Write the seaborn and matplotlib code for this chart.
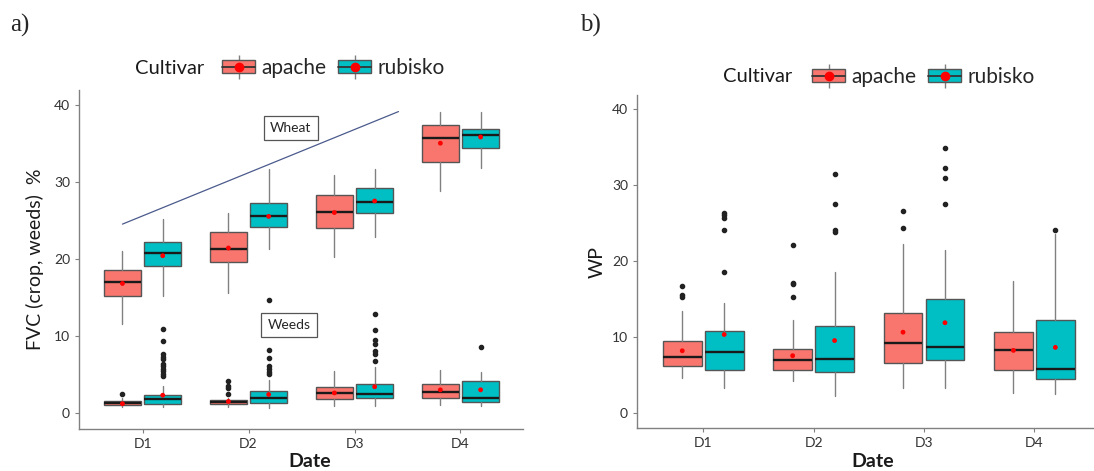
import matplotlib
matplotlib.use("Agg")
import matplotlib.pyplot as plt
import seaborn as sns
from matplotlib.patches import Patch
from matplotlib.lines import Line2D
from matplotlib.legend_handler import HandlerTuple

dates = ["D1", "D2", "D3", "D4"]
cultivars = ["apache", "rubisko"]
colors = {"apache": "#F8766D", "rubisko": "#00BFC4"}

# ---- panel a : FVC, wheat boxes ----
wheat_apache_lo = [11.5, 15.5, 20.2, 28.8]
wheat_apache_q1 = [15.2, 19.6, 24.0, 32.6]
wheat_apache_med = [17.05, 21.3, 26.1, 35.7]
wheat_apache_q3 = [18.6, 23.5, 28.3, 37.3]
wheat_apache_hi = [21.0, 26.0, 30.9, 39.1]
wheat_apache_mean = [16.8, 21.4, 26.0, 35.0]
wheat_apache_out = [[], [], [], []]

wheat_rubisko_lo = [15.2, 21.3, 22.8, 31.8]
wheat_rubisko_q1 = [19.1, 24.1, 25.9, 34.4]
wheat_rubisko_med = [20.8, 25.6, 27.4, 36.0]
wheat_rubisko_q3 = [22.2, 27.2, 29.2, 36.8]
wheat_rubisko_hi = [25.2, 31.6, 31.6, 39.1]
wheat_rubisko_mean = [20.4, 25.5, 27.5, 35.8]
wheat_rubisko_out = [[], [14.7], [], []]

# ---- panel a : FVC, weed boxes ----
weed_apache_lo = [0.8, 0.8, 0.9, 1.04]
weed_apache_q1 = [1.04, 1.13, 1.8, 2.0]
weed_apache_med = [1.3, 1.47, 2.6, 2.77]
weed_apache_q3 = [1.56, 1.65, 3.4, 3.7]
weed_apache_hi = [1.9, 1.9, 5.5, 5.6]
weed_apache_mean = [1.2, 1.5, 2.6, 3.0]
weed_apache_out = [[2.4], [4.15, 3.45, 3.2, 2.4], [], []]

weed_rubisko_lo = [0.74, 0.6, 0.9, 0.9]
weed_rubisko_q1 = [1.1, 1.26, 1.9, 1.47]
weed_rubisko_med = [1.8, 1.9, 2.4, 2.0]
weed_rubisko_q3 = [2.3, 2.86, 3.77, 4.2]
weed_rubisko_hi = [3.5, 4.3, 6.0, 5.3]
weed_rubisko_mean = [2.3, 2.4, 3.4, 3.0]
weed_rubisko_out = [[10.9, 9.35, 7.66, 7.3, 7.0, 6.36, 6.1, 5.75, 5.4, 5.06, 4.8],
                    [8.2, 7.1, 6.1, 5.75, 5.36, 5.0],
                    [12.86, 10.7, 9.5, 8.96, 8.05, 7.66, 6.7],
                    [8.5]]

wheat_line_x = [-0.19, 2.415]
wheat_line_y = [24.5, 39.1]

# ---- panel b : WP ----
wp_apache_lo = [4.6, 4.2, 3.3, 2.55]
wp_apache_q1 = [6.1, 5.6, 6.6, 5.6]
wp_apache_med = [7.3, 6.9, 9.2, 8.2]
wp_apache_q3 = [9.4, 8.4, 13.1, 10.6]
wp_apache_hi = [13.4, 12.2, 22.3, 17.4]
wp_apache_mean = [8.15, 7.5, 10.6, 8.2]
wp_apache_out = [[16.7, 15.5, 15.2], [22.15, 17.1, 16.9, 15.3], [26.55, 24.4], []]

wp_rubisko_lo = [3.3, 2.2, 3.2, 2.4]
wp_rubisko_q1 = [5.6, 5.4, 6.9, 4.45]
wp_rubisko_med = [8.0, 7.1, 8.6, 5.7]
wp_rubisko_q3 = [10.8, 11.45, 15.0, 12.2]
wp_rubisko_hi = [14.4, 18.5, 21.4, 23.5]
wp_rubisko_mean = [10.3, 9.5, 11.85, 8.6]
wp_rubisko_out = [[26.3, 26.0, 25.7, 24.1, 18.5], [31.5, 27.5, 24.1, 23.8],
                  [34.9, 32.3, 31.0, 27.5], [24.1]]

yticks = [0, 10, 20, 30, 40]

sns.set_theme(style="white")
plt.rcParams['font.family'] = ['Lato', 'DejaVu Sans']


def make_stats(lo, q1, med, q3, hi, mean, out):
    stats = []
    for i in range(len(dates)):
        stats.append({"whislo": lo[i], "q1": q1[i], "med": med[i], "q3": q3[i],
                      "whishi": hi[i], "mean": mean[i], "fliers": out[i], "label": dates[i]})
    return stats


def draw_boxes(ax, stats, cultivar):
    offset = -0.19 if cultivar == "apache" else 0.19
    pos = [i + offset for i in range(len(dates))]
    ax.bxp(stats, positions=pos, widths=0.35, patch_artist=True, showcaps=False,
           showmeans=False, manage_ticks=False,
           boxprops=dict(facecolor=colors[cultivar], edgecolor="#555555", linewidth=1.0),
           medianprops=dict(color="#1a1a1a", linewidth=1.7),
           whiskerprops=dict(color="#808080", linewidth=1.0),
           flierprops=dict(marker="o", markersize=3, markerfacecolor="#222222",
                           markeredgecolor="#222222"))
    sns.scatterplot(x=pos, y=[s["mean"] for s in stats], color="red", s=12,
                    edgecolor="none", ax=ax, legend=False, zorder=5)


def style_axis(ax, xmax, ylab):
    ax.set_xlim(-0.6, xmax)
    ax.set_ylim(-2.08, 41.9)
    ax.set_xticks(range(len(dates)))
    ax.set_xticklabels(dates)
    ax.set_yticks(yticks)
    for s in ["top", "right"]:
        ax.spines[s].set_visible(False)
    for s in ["left", "bottom"]:
        ax.spines[s].set_color("#808080")
        ax.spines[s].set_linewidth(1.0)
    ax.tick_params(axis="both", length=3, width=0.8, color="#808080",
                   labelsize=10, labelcolor="#333333", left=True, bottom=True)
    ax.set_ylabel(ylab, fontsize=14, color="#1a1a1a")
    ax.set_xlabel("Date", fontsize=14, fontweight="bold", color="#1a1a1a")
    ax.grid(False)


def add_legend(ax_fig, x_title, x_leg, y):
    fig.text(x_title / 1094, 1 - y / 471, "Cultivar", fontsize=14.5, va="center",
             ha="left", color="#1a1a1a")
    handles = []
    for c in cultivars:
        handles.append((Line2D([], [], color="#808080", marker="|", markersize=17,
                               linestyle="none"),
                        Patch(facecolor=colors[c], edgecolor="#555555"),
                        Line2D([], [], color="#333333", lw=1.3, marker="o",
                               markerfacecolor="red", markeredgecolor="red", markersize=6)))
    fig.legend(handles, cultivars, handler_map={tuple: HandlerTuple(ndivide=1, pad=0)},
               loc="center left", bbox_to_anchor=(x_leg / 1094, 1 - y / 471),
               ncol=2, frameon=False, fontsize=15, borderpad=0, borderaxespad=0,
               handlelength=1.6, handleheight=0.6, handletextpad=0.3, columnspacing=0.55)


fig = plt.figure(figsize=(10.94, 4.71), dpi=100)

ax_a = fig.add_axes([79 / 1094, (471 - 429) / 471, 444 / 1094, 339 / 471])
for c in cultivars:
    if c == "apache":
        draw_boxes(ax_a, make_stats(wheat_apache_lo, wheat_apache_q1, wheat_apache_med,
                                    wheat_apache_q3, wheat_apache_hi, wheat_apache_mean,
                                    wheat_apache_out), c)
        draw_boxes(ax_a, make_stats(weed_apache_lo, weed_apache_q1, weed_apache_med,
                                    weed_apache_q3, weed_apache_hi, weed_apache_mean,
                                    weed_apache_out), c)
    else:
        draw_boxes(ax_a, make_stats(wheat_rubisko_lo, wheat_rubisko_q1, wheat_rubisko_med,
                                    wheat_rubisko_q3, wheat_rubisko_hi, wheat_rubisko_mean,
                                    wheat_rubisko_out), c)
        draw_boxes(ax_a, make_stats(weed_rubisko_lo, weed_rubisko_q1, weed_rubisko_med,
                                    weed_rubisko_q3, weed_rubisko_hi, weed_rubisko_mean,
                                    weed_rubisko_out), c)
ax_a.plot(wheat_line_x, wheat_line_y, color="#4b5a8c", lw=0.9)
box_style = dict(boxstyle="square,pad=0.45", facecolor="white", edgecolor="#555555", lw=0.9)
ax_a.text(1.40, 37.0, "Wheat", fontsize=10, ha="center", va="center", bbox=box_style)
ax_a.text(1.38, 11.4, "Weeds", fontsize=10, ha="center", va="center", bbox=box_style)
style_axis(ax_a, 3.59, "FVC (crop, weeds)  %")
ax_a.yaxis.set_label_coords(-0.078, 0.5)
ax_a.xaxis.set_label_coords(0.52, -0.071)

ax_b = fig.add_axes([637 / 1094, (471 - 428.3) / 471, (1094 - 637) / 1094, (428.3 - 95) / 471])
draw_boxes(ax_b, make_stats(wp_apache_lo, wp_apache_q1, wp_apache_med, wp_apache_q3,
                            wp_apache_hi, wp_apache_mean, wp_apache_out), "apache")
draw_boxes(ax_b, make_stats(wp_rubisko_lo, wp_rubisko_q1, wp_rubisko_med, wp_rubisko_q3,
                            wp_rubisko_hi, wp_rubisko_mean, wp_rubisko_out), "rubisko")
style_axis(ax_b, 3.54, "WP")
ax_b.yaxis.set_label_coords(-0.068, 0.5)
ax_b.xaxis.set_label_coords(0.515, -0.074)

add_legend(fig, 135, 222, 68)
add_legend(fig, 723, 812, 77)

fig.text(10 / 1094, 1 - 25 / 471, "a)", fontsize=18, family="Liberation Serif",
         va="center", ha="left")
fig.text(580 / 1094, 1 - 25 / 471, "b)", fontsize=18, family="Liberation Serif",
         va="center", ha="left")

fig.savefig("out.png", dpi=100)
